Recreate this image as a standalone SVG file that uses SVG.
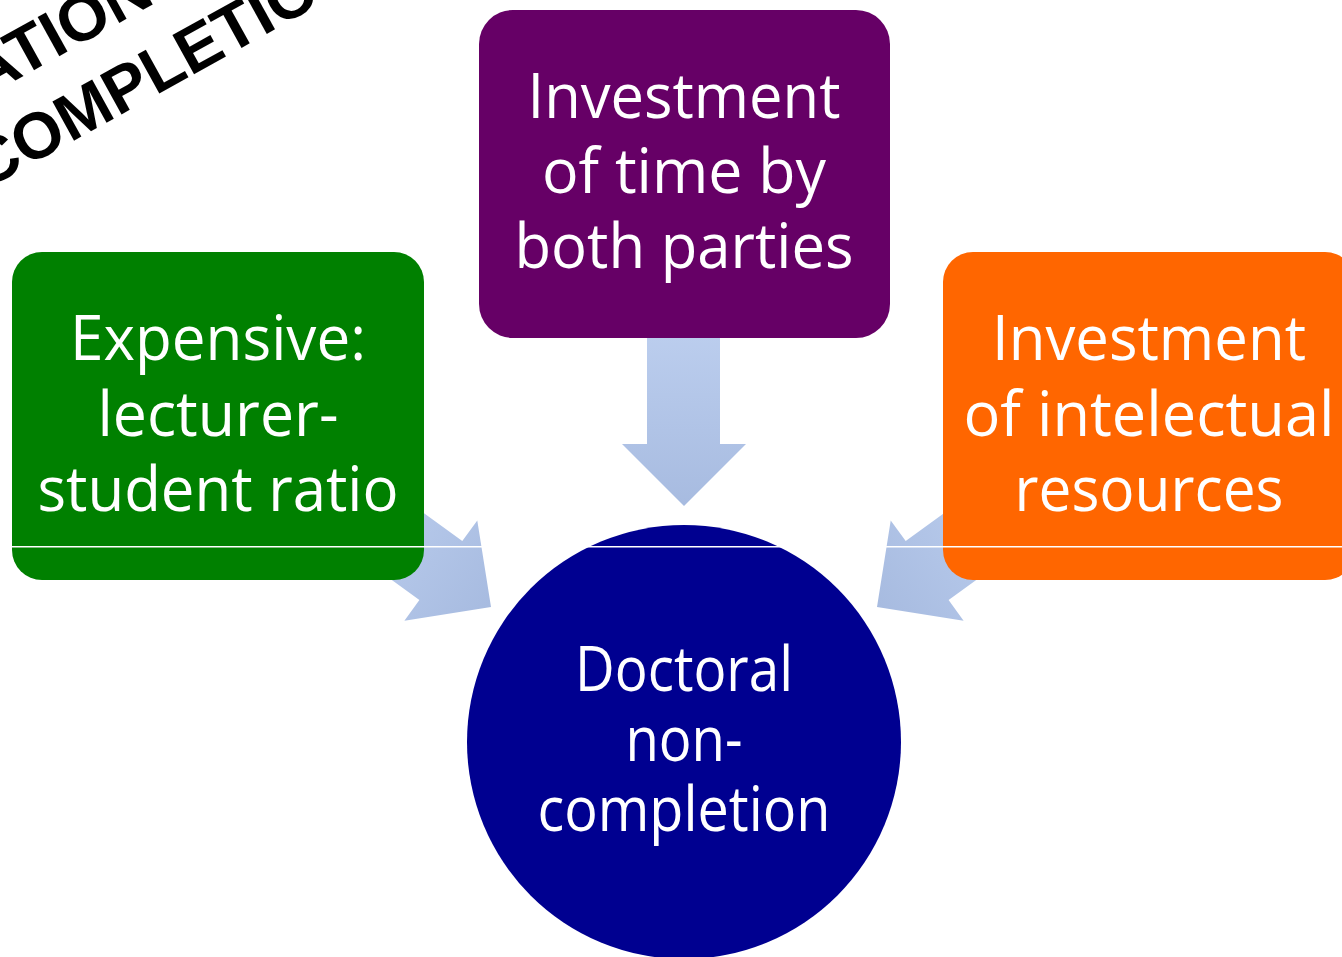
<svg xmlns="http://www.w3.org/2000/svg" width="1342" height="957" viewBox="0 0 1342 957">
<defs>
<linearGradient id="ag" x1="0" y1="0" x2="0" y2="1">
<stop offset="0" stop-color="#BDCFEF"/>
<stop offset="1" stop-color="#A7BBE0"/>
</linearGradient>
<style>
.lbl{font-family:"Open Sans","Liberation Sans",sans-serif;font-size:62px;fill:#fff;text-anchor:middle}
.diag{font-family:"Liberation Sans",Arial,sans-serif;font-weight:bold;font-size:65px;fill:#000}
</style>
</defs>
<g id="title">
<text class="diag" transform="translate(-16,98) rotate(-29)">ATION</text>
<text class="diag" transform="translate(-15,190) rotate(-29)">COMPLETIO</text>
</g>
<g id="connectors">
<polygon fill="url(#ag)" points="647,320 720,320 720,444 746,444 684,506 622,444 647,444"/>
<polygon fill="url(#ag)" transform="translate(491,607) rotate(-54)" points="-36.5,-180 36.5,-180 36.5,-62 62,-62 0,0 -62,-62 -36.5,-62"/>
<polygon fill="url(#ag)" transform="translate(877,607) rotate(54)" points="-36.5,-180 36.5,-180 36.5,-62 62,-62 0,0 -62,-62 -36.5,-62"/>
</g>
<g id="node-top">
<rect x="479" y="10" width="411" height="328" rx="34" fill="#660066"/>
<text class="lbl" x="684" y="118" textLength="313" lengthAdjust="spacingAndGlyphs">Investment</text>
<text class="lbl" x="684" y="193" textLength="284" lengthAdjust="spacingAndGlyphs">of time by</text>
<text class="lbl" x="684" y="268" textLength="339" lengthAdjust="spacingAndGlyphs">both parties</text>
</g>
<g id="node-left">
<rect x="12" y="252" width="412" height="328" rx="30" fill="#008000"/>
<text class="lbl" x="218" y="360" textLength="296" lengthAdjust="spacingAndGlyphs">Expensive:</text>
<text class="lbl" x="218" y="436" textLength="241" lengthAdjust="spacingAndGlyphs">lecturer-</text>
<text class="lbl" x="218" y="511" textLength="361" lengthAdjust="spacingAndGlyphs">student ratio</text>
</g>
<g id="node-right">
<rect x="943" y="252" width="412" height="328" rx="30" fill="#FF6600"/>
<text class="lbl" x="1149" y="360" textLength="314" lengthAdjust="spacingAndGlyphs">Investment</text>
<text class="lbl" x="1149" y="436" textLength="371" lengthAdjust="spacingAndGlyphs">of intelectual</text>
<text class="lbl" x="1149" y="511" textLength="269" lengthAdjust="spacingAndGlyphs">resources</text>
</g>
<g id="node-center">
<circle cx="684" cy="742" r="217" fill="#000090"/>
<text class="lbl" x="684" y="691" textLength="218" lengthAdjust="spacingAndGlyphs">Doctoral</text>
<text class="lbl" x="684" y="761" textLength="117" lengthAdjust="spacingAndGlyphs">non-</text>
<text class="lbl" x="684" y="831" textLength="293" lengthAdjust="spacingAndGlyphs">completion</text>
</g>
<rect x="0" y="546" width="1342" height="1.5" fill="#fff"/>
</svg>
